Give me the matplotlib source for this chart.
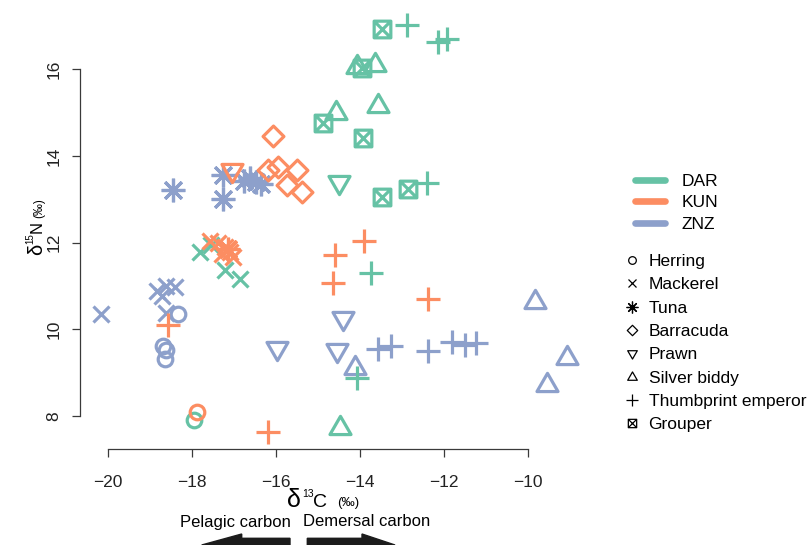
"""
Stable isotope biplot (d13C vs d15N) of reef and pelagic fish by landing site.
"""

import matplotlib.pyplot as plt
from matplotlib.lines import Line2D
from matplotlib.patches import FancyArrow
from matplotlib.path import Path

plt.rcParams["font.family"] = ["Liberation Sans", "DejaVu Sans"]
plt.rcParams["mathtext.default"] = "regular"
plt.rcParams["axes.unicode_minus"] = True

SITES = ["DAR", "KUN", "ZNZ"]
SPECIES = ["Herring", "Mackerel", "Tuna", "Barracuda", "Prawn",
           "Silver biddy", "Thumbprint emperor", "Grouper"]

# one entry per sample
DAR_SPECIES = (["Herring"] + ["Mackerel"] * 4 + ["Prawn"] + ["Silver biddy"] * 5
               + ["Thumbprint emperor"] * 6 + ["Grouper"] * 6)
DAR_D13C = [-17.96,
            -17.82, -17.55, -17.22, -16.86,
            -14.51,
            -14.08, -13.65, -14.58, -13.57, -14.48,
            -12.90, -12.14, -11.94, -12.42, -13.75, -14.09,
            -13.49, -13.97, -14.88, -13.94, -13.49, -12.87]
DAR_D15N = [7.91,
            11.79, 11.95, 11.37, 11.16,
            13.41,
            16.06, 16.10, 15.00, 15.15, 7.72,
            17.02, 16.64, 16.69, 13.37, 11.31, 8.87,
            16.92, 16.02, 14.77, 14.41, 13.06, 13.23]

KUN_SPECIES = (["Herring"] + ["Mackerel"] * 6 + ["Tuna"] + ["Barracuda"] * 6
               + ["Prawn"] + ["Thumbprint emperor"] * 6)
KUN_D13C = [-17.88,
            -17.58, -17.38, -17.22, -17.10, -17.30, -17.02,
            -17.15,
            -16.07, -15.95, -15.51, -16.19, -15.75, -15.40,
            -17.05,
            -18.59, -16.19, -14.60, -14.66, -13.91, -12.38]
KUN_D15N = [8.10,
            12.04, 11.99, 11.91, 11.79, 11.74, 11.66,
            11.85,
            14.45, 13.75, 13.68, 13.68, 13.33, 13.18,
            13.68,
            10.10, 7.64, 11.72, 11.06, 12.05, 10.69]

ZNZ_SPECIES = (["Herring"] * 4 + ["Mackerel"] * 6 + ["Tuna"] * 7 + ["Prawn"] * 3
               + ["Silver biddy"] * 4 + ["Thumbprint emperor"] * 6)
ZNZ_D13C = [-18.33, -18.70, -18.62, -18.64,
            -20.17, -18.85, -18.72, -18.62, -18.42, -18.62,
            -18.45, -17.26, -17.26, -16.78, -16.62, -16.48, -16.36,
            -15.99, -14.56, -14.42,
            -14.13, -9.84, -9.09, -9.55,
            -13.58, -13.28, -12.38, -11.82, -11.51, -11.25]
ZNZ_D15N = [10.35, 9.62, 9.52, 9.32,
            10.35, 10.88, 10.78, 11.00, 10.98, 10.38,
            13.21, 13.57, 13.01, 13.42, 13.50, 13.40, 13.36,
            9.56, 9.52, 10.26,
            9.10, 10.64, 9.33, 8.72,
            9.55, 9.62, 9.51, 9.72, 9.64, 9.68]

SITE_COLORS = {"DAR": "#66c2a5", "KUN": "#fc8d62", "ZNZ": "#8da0cb"}


def closed_shape(points):
    verts = list(points) + [points[0]]
    codes = [Path.MOVETO] + [Path.LINETO] * (len(points) - 1) + [Path.CLOSEPOLY]
    return Path(verts, codes)


# pch-like marker shapes
TRI_UP = closed_shape([(-1.0, -0.577), (1.0, -0.577), (0.0, 1.155)])
TRI_DOWN = closed_shape([(-1.0, 0.577), (1.0, 0.577), (0.0, -1.155)])
DIAMOND = closed_shape([(0, 1), (1, 0), (0, -1), (-1, 0)])
BOX_X = Path([(-1, -1), (1, -1), (1, 1), (-1, 1), (-1, -1),
              (-1, -1), (1, 1), (-1, 1), (1, -1)],
             [Path.MOVETO, Path.LINETO, Path.LINETO, Path.LINETO, Path.CLOSEPOLY,
              Path.MOVETO, Path.LINETO, Path.MOVETO, Path.LINETO])

MARKERS = {
    "Herring": ("o", 10.5, 5.5),
    "Mackerel": ("x", 11.5, 5.5),
    "Tuna": ((8, 2, 0), 17, 8.5),
    "Barracuda": (DIAMOND, 15, 7.5),
    "Prawn": (TRI_DOWN, 17.5, 8),
    "Silver biddy": (TRI_UP, 17.5, 8),
    "Thumbprint emperor": ("+", 17, 9),
    "Grouper": (BOX_X, 12, 6),
}

W, H = 808, 545


def fig_xy(px, py):
    return px / W, 1 - py / H


fig = plt.figure(figsize=(W / 100, H / 100), dpi=100)
ax = fig.add_axes([80 / W, 1 - 449.3 / H, 505 / W, 440.7 / H])

site_data = {
    "DAR": (DAR_SPECIES, DAR_D13C, DAR_D15N),
    "KUN": (KUN_SPECIES, KUN_D13C, KUN_D15N),
    "ZNZ": (ZNZ_SPECIES, ZNZ_D13C, ZNZ_D15N),
}

for site in ["ZNZ", "DAR", "KUN"]:
    species, xs, ys = site_data[site]
    for sp in SPECIES:
        px = [x for s, x in zip(species, xs) if s == sp]
        py = [y for s, y in zip(species, ys) if s == sp]
        if not px:
            continue
        marker, size, _ = MARKERS[sp]
        ax.plot(px, py, linestyle="none", marker=marker, ms=size, mew=2.3,
                mec=SITE_COLORS[site], mfc="none", color=SITE_COLORS[site])

ax.set_xlim(-20.674, -8.65)
ax.set_ylim(7.234, 17.40)
ax.set_xticks([-20, -18, -16, -14, -12, -10])
ax.set_yticks([8, 10, 12, 14, 16])
for side in ["top", "right"]:
    ax.spines[side].set_visible(False)
ax.spines["left"].set_bounds(8, 16)
ax.spines["bottom"].set_bounds(-20, -10)
for side in ["left", "bottom"]:
    ax.spines[side].set_color("#3a3a3a")
    ax.spines[side].set_linewidth(0.9)
ax.tick_params(axis="both", length=5.5, width=0.9, color="#3a3a3a",
               labelsize=12.5, labelcolor="#222222")
ax.tick_params(axis="x", pad=13.2)
ax.tick_params(axis="y", pad=8.0)
for lbl in ax.get_yticklabels():
    lbl.set_rotation(90)
    lbl.set_va("center")

# axis titles, built piecewise so the delta and unit sit at their own sizes
fig.text(*fig_xy(287, 507), "δ", fontsize=18, ha="left", va="baseline")
fig.text(*fig_xy(302, 497), "13", fontsize=7.5, ha="left", va="baseline")
fig.text(*fig_xy(313, 507), "C", fontsize=14, ha="left", va="baseline")
fig.text(*fig_xy(337, 506), "(‰)", fontsize=9.5, ha="left", va="baseline")

rot = dict(rotation=90, rotation_mode="anchor", ha="left", va="baseline")
fig.text(*fig_xy(42, 255), "δ", fontsize=14.5, **rot)
fig.text(*fig_xy(33, 243.5), "15", fontsize=7, **rot)
fig.text(*fig_xy(42, 233), "N", fontsize=12, **rot)
fig.text(*fig_xy(42, 218), "(‰)", fontsize=8.5, **rot)

fig.text(*fig_xy(235, 522), "Pelagic carbon", fontsize=12, ha="center", va="center")
fig.text(*fig_xy(366.7, 522), "Demersal carbon", fontsize=12, ha="center", va="center")

arrow_kw = dict(width=0.134, head_width=0.22, length_includes_head=True,
                color="#1c1c1c", transform=fig.dpi_scale_trans)
fig.add_artist(FancyArrow(2.90, 0.0, -0.883, 0, head_length=0.40, **arrow_kw))
fig.add_artist(FancyArrow(3.073, 0.0, 0.877, 0, head_length=0.33, **arrow_kw))

site_handles = [Line2D([], [], color=SITE_COLORS[s], lw=4.8, solid_capstyle="round")
                for s in SITES]
fig.legend(site_handles, SITES, loc="upper left", bbox_to_anchor=fig_xy(635, 173.5),
           frameon=False, fontsize=12.5, handlelength=1.75, handletextpad=0.95,
           labelspacing=0.38, borderpad=0, borderaxespad=0)

species_handles = [Line2D([], [], linestyle="none", marker=MARKERS[sp][0],
                          ms=MARKERS[sp][2], mew=0.9, color="black", mfc="none")
                   for sp in SPECIES]
fig.legend(species_handles, SPECIES, loc="upper left", bbox_to_anchor=fig_xy(623.4, 254),
           frameon=False, fontsize=12.5, handlelength=1.0, handletextpad=0.45,
           labelspacing=0.47, borderpad=0, borderaxespad=0, numpoints=1)

fig.savefig("out.png", dpi=100)
